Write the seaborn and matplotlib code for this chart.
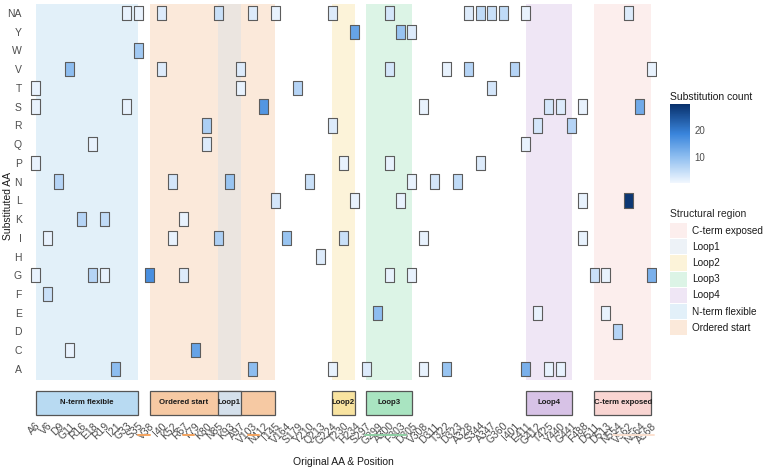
import numpy as np
import pandas as pd
import matplotlib
matplotlib.use("Agg")
import matplotlib.pyplot as plt
import seaborn as sns
from matplotlib.path import Path
from matplotlib.patches import Rectangle, Patch
from matplotlib.colors import LinearSegmentedColormap, Normalize
from matplotlib.cm import ScalarMappable

# x axis: original residue & position, in plotted order
positions = ["A6", "V6", "D9", "G11", "R16", "E18", "R19", "I21", "G33", "S35",
             "V38", "I40", "K52", "R67", "Y79", "K80", "N85", "K93", "A97", "V103",
             "N112", "I145", "V164", "S179", "Y210", "Q213", "G224", "T230", "H234",
             "S297", "G299", "A300", "F303", "D305", "V308", "D311", "T322", "D323",
             "A328", "S344", "A347", "G360", "I401", "E411", "G412", "T425", "Y440",
             "G441", "F488", "D511", "D513", "N554", "V562", "N564", "A568"]

# y axis: substituted residue, bottom to top
aa_levels = ["A", "C", "D", "E", "F", "G", "H", "I", "K", "L",
             "N", "P", "Q", "R", "S", "T", "V", "W", "Y", "NA"]

# tiles (substituted AA, original position, count)
tile_sub = (["NA"] * 14 + ["Y"] * 3 + ["W"] + ["V"] * 8 + ["T"] * 4 + ["S"] * 8
            + ["R"] * 4 + ["Q"] * 3 + ["P"] * 4 + ["N"] * 7 + ["L"] * 5 + ["K"] * 3
            + ["I"] * 7 + ["H"] + ["G"] * 10 + ["F"] + ["E"] * 3 + ["D"] + ["C"] * 2
            + ["A"] * 9)
tile_pos = ["G33", "S35", "I40", "N85", "V103", "I145", "G224", "A300", "A328", "S344",
            "A347", "G360", "E411", "V562",
            "H234", "F303", "D305",
            "S35",
            "G11", "I40", "A97", "A300", "T322", "A328", "I401", "A568",
            "A6", "A97", "S179", "A347",
            "A6", "G33", "N112", "V308", "T425", "Y440", "F488", "N564",
            "K80", "G224", "G412", "G441",
            "E18", "K80", "E411",
            "A6", "T230", "A300", "S344",
            "D9", "K52", "K93", "Y210", "D305", "D311", "D323",
            "I145", "H234", "F303", "F488", "V562",
            "R16", "R19", "R67",
            "V6", "K52", "N85", "V164", "T230", "V308", "F488",
            "Q213",
            "A6", "E18", "R19", "V38", "R67", "A300", "D305", "D511", "D513", "A568",
            "V6",
            "G299", "G412", "D513",
            "N554",
            "G11", "Y79",
            "I21", "V103", "G224", "S297", "V308", "T322", "E411", "T425", "Y440"]
tile_count = [1, 1, 2, 4, 2, 1, 2, 3, 2, 5, 4, 5, 1, 2,
              14, 9, 2,
              8,
              10, 2, 2, 3, 1, 6, 6, 1,
              1, 1, 6, 3,
              1, 1, 16, 1, 3, 2, 1, 13,
              7, 2, 3, 6,
              1, 2, 1,
              1, 1, 1, 2,
              6, 3, 9, 4, 1, 3, 5,
              3, 1, 1, 1, 29,
              6, 5, 1,
              1, 1, 7, 9, 4, 1, 1,
              2,
              1, 6, 1, 17, 2, 1, 1, 4, 1, 12,
              4,
              10, 1, 1,
              6,
              1, 14,
              10, 10, 1, 2, 1, 9, 12, 1, 1]

# structural regions along the x axis (Loop1 sits inside Ordered start)
region_name = ["N-term flexible", "Ordered start", "Loop1", "Loop2", "Loop3",
               "Loop4", "C-term exposed"]
region_start = ["A6", "V38", "N85", "G224", "S297", "E411", "D511"]
region_end = ["S35", "I145", "A97", "H234", "D305", "G441", "A568"]
label_start = ["A6", "V38", "N85", "G224", "S297", "E411", "D511"]
label_end = ["S35", "N85", "A97", "H234", "D305", "G441", "A568"]
region_colors = {"C-term exposed": "#F9D5D2", "Loop1": "#D4E0EB", "Loop2": "#F8E3A0",
                 "Loop3": "#A9E4C1", "Loop4": "#D7C2E6", "N-term flexible": "#B8DAF2",
                 "Ordered start": "#F6C9A3"}

sns.set_theme(style="white")
plt.rcParams["font.family"] = ["Liberation Sans", "DejaVu Sans"]

df = pd.DataFrame({"sub": tile_sub, "pos": tile_pos, "count": tile_count})
df["x"] = df["pos"].map({p: i for i, p in enumerate(positions)})
df["y"] = df["sub"].map({a: i for i, a in enumerate(aa_levels)})

cmap = LinearSegmentedColormap.from_list(
    "subs", [(0, "#F1F7FE"), (0.33, "#8EBEF0"), (0.62, "#3A85DC"), (1, "#08306B")])
norm = Normalize(vmin=0, vmax=30)

fig = plt.figure(figsize=(7.67, 4.69), dpi=100)
ax = fig.add_axes([30 / 767, 1 - 418 / 469, 627 / 767, 414 / 469])
ax.set_xlim(-0.5, len(positions) - 0.5)
ax.set_ylim(-2.62, 19.48)

idx = {p: i for i, p in enumerate(positions)}
for name, s, e in zip(region_name, region_start, region_end):
    ax.axvspan(idx[s], idx[e], color=region_colors[name], alpha=0.4, lw=0, zorder=0)
ax.axhspan(-2.62, -0.6, color="white", lw=0, zorder=1)
for name, s, e, ls, le in zip(region_name, region_start, region_end, label_start, label_end):
    ax.add_patch(Rectangle((idx[s], -2.45), idx[e] - idx[s], 1.28,
                           facecolor=region_colors[name], edgecolor="#555555",
                           lw=0.9, zorder=2))
    ax.text((idx[ls] + idx[le]) / 2, -1.81, name, ha="center", va="center",
            fontsize=5.6, fontweight="bold", color="#1a1a1a", zorder=3)

# rectangular tile marker
w = 0.316
tile = Path([(-w, -0.5), (w, -0.5), (w, 0.5), (-w, 0.5), (-w, -0.5)],
            [Path.MOVETO, Path.LINETO, Path.LINETO, Path.LINETO, Path.CLOSEPOLY])
sns.scatterplot(data=df, x="x", y="y", hue="count", palette=cmap, hue_norm=norm,
                marker=tile, s=108, edgecolor="#5c5c5c", linewidth=0.8,
                legend=False, ax=ax, zorder=4)

ax.set_xticks(range(len(positions)))
ax.set_xticklabels(positions, rotation=45, ha="right", va="top",
                   rotation_mode="anchor", fontsize=7.5, color="#4D4D4D")
ax.set_yticks(range(len(aa_levels)))
ax.set_yticklabels(aa_levels, fontsize=7.5, color="#4D4D4D")
ax.tick_params(axis="both", length=0, pad=2)
ax.tick_params(axis="y", pad=6)
ax.set_xlabel("")
ax.set_ylabel("")
for sp in ax.spines.values():
    sp.set_visible(False)
fig.text(343 / 767, 1 - 462 / 469, "Original AA & Position", fontsize=7.5,
         ha="center", va="center", color="#1a1a1a")
fig.text(8 / 767, 1 - 206 / 469, "Substituted AA", fontsize=7.5, rotation=90,
         ha="center", va="center", color="#1a1a1a")

# coloured underline marks below the labels
for x0, x1, c in [(8.97, 10.03, "#F4A460"), (12.92, 13.89, "#F4A460"),
                  (18.62, 19.59, "#F4A460"), (28.89, 32.48, "#8FD0A4"),
                  (50.64, 54.23, "#FBE0CF")]:
    ax.plot([x0, x1], [-3.52, -3.52], color=c, lw=1.4, clip_on=False)

# colorbar
cax = fig.add_axes([670 / 767, 1 - 183 / 469, 20 / 767, 79 / 469])
cb = fig.colorbar(ScalarMappable(norm=norm, cmap=cmap), cax=cax)
cb.outline.set_visible(False)
cb.set_ticks([10, 20])
cax.tick_params(length=4, direction="in", color="white", width=0.8,
                labelsize=7, labelcolor="#4D4D4D", pad=3)
fig.text(670 / 767, 1 - 97 / 469, "Substitution count", fontsize=7.5,
         ha="left", va="center", color="#1a1a1a")

# structural region legend
legend_order = ["C-term exposed", "Loop1", "Loop2", "Loop3", "Loop4",
                "N-term flexible", "Ordered start"]
handles = [Patch(facecolor=region_colors[n], alpha=0.4, edgecolor="none", label=n)
           for n in legend_order]
leg = fig.legend(handles=handles, loc="upper left", bbox_to_anchor=(663 / 767, 1 - 202 / 469),
                 frameon=False, title="Structural region", fontsize=7.2,
                 title_fontsize=7.5, handlelength=1.7, handleheight=1.95,
                 labelspacing=0.1, handletextpad=0.5, alignment="left", borderpad=0.2)
for t in leg.get_texts():
    t.set_color("#1a1a1a")
leg._legend_box.sep = 3

fig.savefig("out.png", dpi=100)
